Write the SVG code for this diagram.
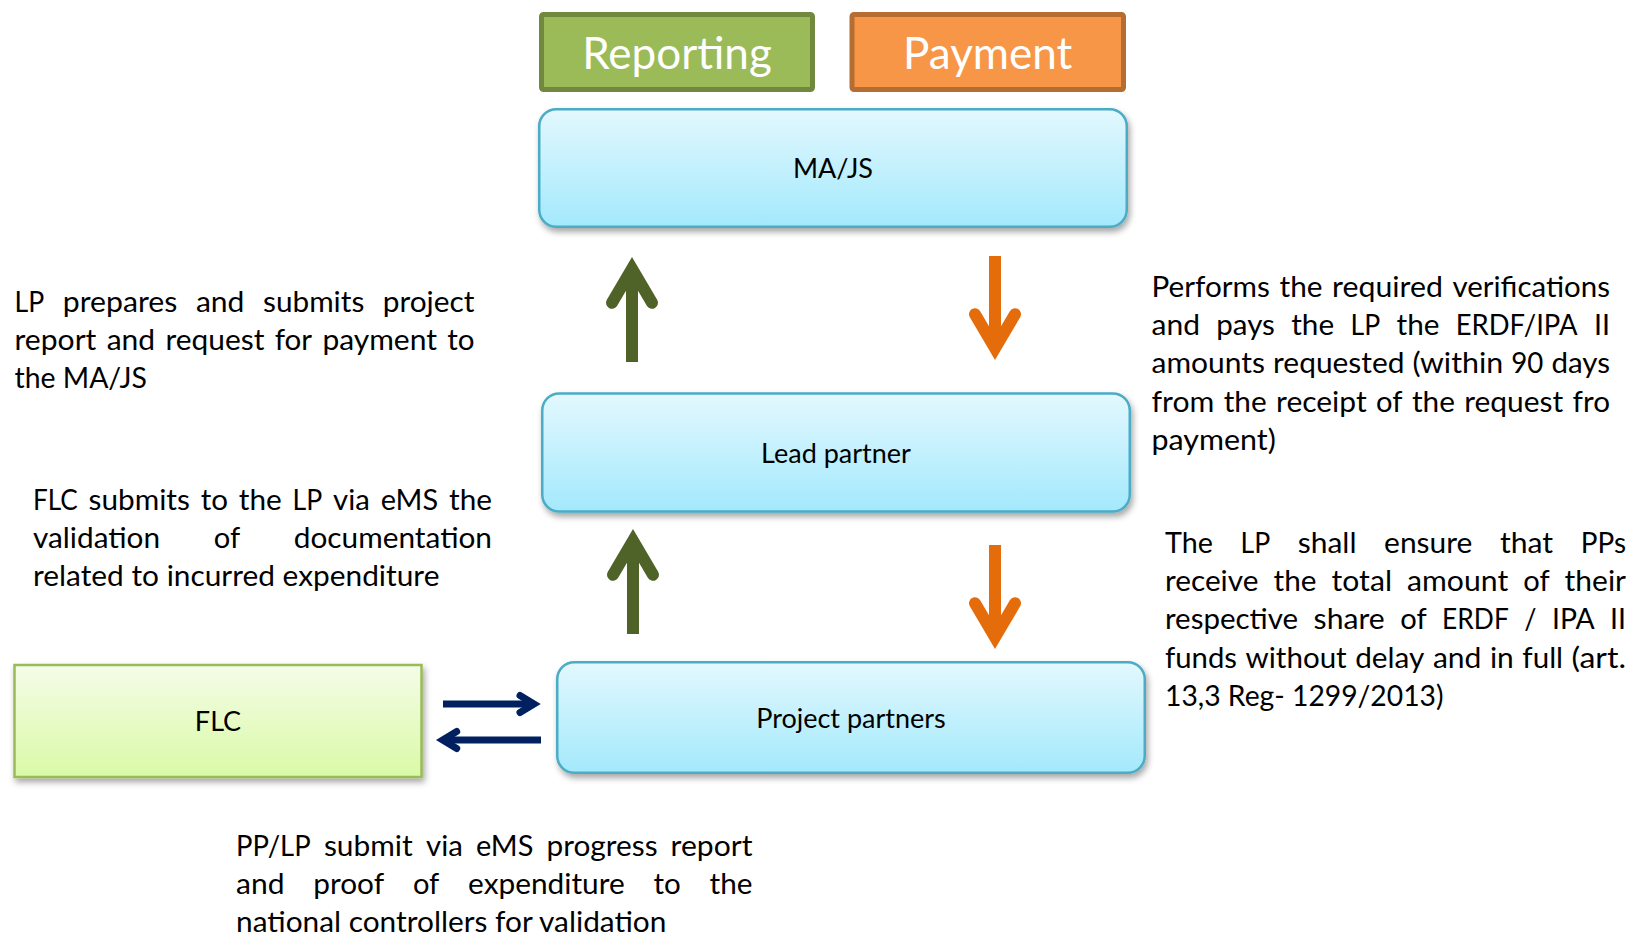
<svg xmlns="http://www.w3.org/2000/svg" width="1632" height="936" viewBox="0 0 1632 936">
<style>
.t{font-family:Lato,"Open Sans","Liberation Sans",sans-serif;fill:#000}
.b{font-size:29.5px}
.lbl{font-size:27px;text-anchor:middle}
.hd{font-family:Lato,"Open Sans","Liberation Sans",sans-serif;font-size:44px;fill:#fff;text-anchor:middle}
.box{fill:url(#blueGrad);stroke:#4bacc6;stroke-width:2.5;filter:url(#sh)}
.flc{fill:url(#greenGrad);stroke:#9bbb59;stroke-width:2.5;filter:url(#sh)}
.ag{stroke:#4f6228;stroke-width:12;fill:none;marker-end:url(#mg)}
.ao{stroke:#e46c0a;stroke-width:12;fill:none;marker-end:url(#mo)}
.ab{stroke:#002060;stroke-width:7;fill:none;marker-end:url(#mb)}
.e{text-anchor:end}
</style>
<defs>
<linearGradient id="blueGrad" x1="0" y1="0" x2="0" y2="1">
<stop offset="0" stop-color="#e3f8fe"/>
<stop offset="1" stop-color="#a3e9fc"/>
</linearGradient>
<linearGradient id="greenGrad" x1="0" y1="0" x2="0" y2="1">
<stop offset="0" stop-color="#f4fce8"/>
<stop offset="1" stop-color="#dafaa6"/>
</linearGradient>
<filter id="sh" x="-10%" y="-20%" width="120%" height="150%">
<feDropShadow dx="2" dy="4" stdDeviation="3" flood-color="#000" flood-opacity="0.35"/>
</filter>
<marker id="mg" markerUnits="userSpaceOnUse" markerWidth="80" markerHeight="80" refX="0" refY="0" orient="auto" overflow="visible">
<path d="M-34,-20 L0,0 L-34,20" fill="none" stroke="#4f6228" stroke-width="12" stroke-linecap="round" stroke-linejoin="miter"/>
</marker>
<marker id="mo" markerUnits="userSpaceOnUse" markerWidth="80" markerHeight="80" refX="0" refY="0" orient="auto" overflow="visible">
<path d="M-34,-20 L0,0 L-34,20" fill="none" stroke="#e46c0a" stroke-width="12" stroke-linecap="round" stroke-linejoin="miter"/>
</marker>
<marker id="mb" markerUnits="userSpaceOnUse" markerWidth="40" markerHeight="40" refX="0" refY="0" orient="auto" overflow="visible">
<path d="M-14,-8.5 L0,0 L-14,8.5" fill="none" stroke="#002060" stroke-width="7" stroke-linecap="round" stroke-linejoin="miter"/>
</marker>
</defs>
<rect width="1632" height="936" fill="#fff"/>

<g id="reporting">
<rect x="541.5" y="14.5" width="271" height="75" rx="2" fill="#9bbb59" stroke="#71893f" stroke-width="5"/>
<text class="hd" x="677" y="69">Reporting</text>
</g>
<g id="payment">
<rect x="852" y="14.5" width="271.5" height="75" rx="2" fill="#f79646" stroke="#b66d31" stroke-width="5"/>
<text class="hd" x="987.7" y="69">Payment</text>
</g>

<g id="ma-js">
<rect class="box" x="539.25" y="109.25" width="587.5" height="117.5" rx="17"/>
<text class="t lbl" x="833" y="178">MA/JS</text>
</g>
<g id="lead-partner">
<rect class="box" x="542.25" y="393.5" width="587.5" height="118" rx="17"/>
<text class="t lbl" x="836" y="463">Lead partner</text>
</g>
<g id="project-partners">
<rect class="box" x="557.25" y="662.25" width="587.5" height="110.5" rx="17"/>
<text class="t lbl" x="851" y="728">Project partners</text>
</g>
<g id="flc">
<rect class="flc" x="14.5" y="665" width="407" height="112"/>
<text class="t lbl" x="218" y="731">FLC</text>
</g>

<g id="connectors">
<line class="ag" x1="632" y1="362" x2="632" y2="268.8"/>
<line class="ag" x1="633" y1="634" x2="633" y2="540.8"/>
<line class="ao" x1="995" y1="256" x2="995" y2="348.2"/>
<line class="ao" x1="995" y1="545" x2="995" y2="637.2"/>
<line class="ab" x1="443" y1="704" x2="534" y2="704"/>
<line class="ab" x1="541" y1="740" x2="442.7" y2="740"/>
</g>

<g id="text-lp-prepares" class="t b">
<text y="312"><tspan x="14.5" textLength="29.7" lengthAdjust="spacingAndGlyphs">LP</tspan><tspan x="62.8" textLength="114.6" lengthAdjust="spacingAndGlyphs">prepares</tspan><tspan x="195.9" textLength="48.5" lengthAdjust="spacingAndGlyphs">and</tspan><tspan x="263" textLength="101.3" lengthAdjust="spacingAndGlyphs">submits</tspan><tspan x="474.5" class="e" textLength="91.8" lengthAdjust="spacingAndGlyphs">project</tspan></text>
<text y="350"><tspan x="14.5" textLength="81.9" lengthAdjust="spacingAndGlyphs">report</tspan><tspan x="106.7" textLength="48.5" lengthAdjust="spacingAndGlyphs">and</tspan><tspan x="165.5" textLength="98.9" lengthAdjust="spacingAndGlyphs">request</tspan><tspan x="274.7" textLength="37.4" lengthAdjust="spacingAndGlyphs">for</tspan><tspan x="322.4" textLength="114.6" lengthAdjust="spacingAndGlyphs">payment</tspan><tspan x="474.5" class="e" textLength="27.3" lengthAdjust="spacingAndGlyphs">to</tspan></text>
<text y="388" x="14.5" textLength="132.5" lengthAdjust="spacingAndGlyphs">the MA/JS</text>
</g>

<g id="text-flc-submits" class="t b">
<text y="510"><tspan x="33" textLength="44.8" lengthAdjust="spacingAndGlyphs">FLC</tspan><tspan x="88.6" textLength="101.3" lengthAdjust="spacingAndGlyphs">submits</tspan><tspan x="200.7" textLength="27.3" lengthAdjust="spacingAndGlyphs">to</tspan><tspan x="238.8" textLength="43" lengthAdjust="spacingAndGlyphs">the</tspan><tspan x="292.6" textLength="29.7" lengthAdjust="spacingAndGlyphs">LP</tspan><tspan x="333.1" textLength="36.8" lengthAdjust="spacingAndGlyphs">via</tspan><tspan x="380.7" textLength="57.4" lengthAdjust="spacingAndGlyphs">eMS</tspan><tspan x="492" class="e" textLength="43" lengthAdjust="spacingAndGlyphs">the</tspan></text>
<text y="548"><tspan x="33" textLength="127.1" lengthAdjust="spacingAndGlyphs">validation</tspan><tspan x="213.8" textLength="26.4" lengthAdjust="spacingAndGlyphs">of</tspan><tspan x="492" class="e" textLength="198.2" lengthAdjust="spacingAndGlyphs">documentation</tspan></text>
<text y="586" x="33" textLength="406.4" lengthAdjust="spacingAndGlyphs">related to incurred expenditure</text>
</g>

<g id="text-performs" class="t b">
<text y="296.6"><tspan x="1151.5" textLength="118.4" lengthAdjust="spacingAndGlyphs">Performs</tspan><tspan x="1279.5" textLength="43" lengthAdjust="spacingAndGlyphs">the</tspan><tspan x="1332.1" textLength="110.9" lengthAdjust="spacingAndGlyphs">required</tspan><tspan x="1610" class="e" textLength="157.5" lengthAdjust="spacingAndGlyphs">verifications</tspan></text>
<text y="334.9"><tspan x="1151.5" textLength="48.5" lengthAdjust="spacingAndGlyphs">and</tspan><tspan x="1216.3" textLength="58.6" lengthAdjust="spacingAndGlyphs">pays</tspan><tspan x="1291.2" textLength="43" lengthAdjust="spacingAndGlyphs">the</tspan><tspan x="1350.5" textLength="29.7" lengthAdjust="spacingAndGlyphs">LP</tspan><tspan x="1396.5" textLength="43" lengthAdjust="spacingAndGlyphs">the</tspan><tspan x="1455.8" textLength="121.7" lengthAdjust="spacingAndGlyphs">ERDF/IPA</tspan><tspan x="1610" class="e" textLength="16" lengthAdjust="spacingAndGlyphs">II</tspan></text>
<text y="373.2"><tspan x="1151.5" textLength="113.5" lengthAdjust="spacingAndGlyphs">amounts</tspan><tspan x="1273.1" textLength="131.4" lengthAdjust="spacingAndGlyphs">requested</tspan><tspan x="1412.5" textLength="90.7" lengthAdjust="spacingAndGlyphs">(within</tspan><tspan x="1511.3" textLength="32.1" lengthAdjust="spacingAndGlyphs">90</tspan><tspan x="1610" class="e" textLength="58.6" lengthAdjust="spacingAndGlyphs">days</tspan></text>
<text y="411.5"><tspan x="1151.5" textLength="62.8" lengthAdjust="spacingAndGlyphs">from</tspan><tspan x="1223.7" textLength="43" lengthAdjust="spacingAndGlyphs">the</tspan><tspan x="1276.1" textLength="90.6" lengthAdjust="spacingAndGlyphs">receipt</tspan><tspan x="1376.1" textLength="26.4" lengthAdjust="spacingAndGlyphs">of</tspan><tspan x="1411.9" textLength="43" lengthAdjust="spacingAndGlyphs">the</tspan><tspan x="1464.3" textLength="98.9" lengthAdjust="spacingAndGlyphs">request</tspan><tspan x="1610" class="e" textLength="37.4" lengthAdjust="spacingAndGlyphs">fro</tspan></text>
<text y="449.8" x="1151.5" textLength="124.3" lengthAdjust="spacingAndGlyphs">payment)</text>
</g>

<g id="text-lp-shall" class="t b">
<text y="552.7"><tspan x="1165" textLength="47.9" lengthAdjust="spacingAndGlyphs">The</tspan><tspan x="1240.5" textLength="29.7" lengthAdjust="spacingAndGlyphs">LP</tspan><tspan x="1297.8" textLength="58.7" lengthAdjust="spacingAndGlyphs">shall</tspan><tspan x="1384.1" textLength="88.3" lengthAdjust="spacingAndGlyphs">ensure</tspan><tspan x="1500" textLength="53.1" lengthAdjust="spacingAndGlyphs">that</tspan><tspan x="1626" class="e" textLength="45.2" lengthAdjust="spacingAndGlyphs">PPs</tspan></text>
<text y="591"><tspan x="1165" textLength="93.4" lengthAdjust="spacingAndGlyphs">receive</tspan><tspan x="1273.5" textLength="43" lengthAdjust="spacingAndGlyphs">the</tspan><tspan x="1331.6" textLength="60.4" lengthAdjust="spacingAndGlyphs">total</tspan><tspan x="1407.1" textLength="101.1" lengthAdjust="spacingAndGlyphs">amount</tspan><tspan x="1523.2" textLength="26.4" lengthAdjust="spacingAndGlyphs">of</tspan><tspan x="1626" class="e" textLength="61.4" lengthAdjust="spacingAndGlyphs">their</tspan></text>
<text y="629.3"><tspan x="1165" textLength="133.1" lengthAdjust="spacingAndGlyphs">respective</tspan><tspan x="1313.6" textLength="71.1" lengthAdjust="spacingAndGlyphs">share</tspan><tspan x="1400.2" textLength="26.4" lengthAdjust="spacingAndGlyphs">of</tspan><tspan x="1442.1" textLength="66.7" lengthAdjust="spacingAndGlyphs">ERDF</tspan><tspan x="1524.3" textLength="12.2" lengthAdjust="spacingAndGlyphs">/</tspan><tspan x="1552" textLength="42.7" lengthAdjust="spacingAndGlyphs">IPA</tspan><tspan x="1626" class="e" textLength="16" lengthAdjust="spacingAndGlyphs">II</tspan></text>
<text y="667.6"><tspan x="1165" textLength="72" lengthAdjust="spacingAndGlyphs">funds</tspan><tspan x="1245.5" textLength="101.2" lengthAdjust="spacingAndGlyphs">without</tspan><tspan x="1355.2" textLength="69.2" lengthAdjust="spacingAndGlyphs">delay</tspan><tspan x="1432.9" textLength="48.5" lengthAdjust="spacingAndGlyphs">and</tspan><tspan x="1489.9" textLength="23.9" lengthAdjust="spacingAndGlyphs">in</tspan><tspan x="1522.3" textLength="40.8" lengthAdjust="spacingAndGlyphs">full</tspan><tspan x="1626" class="e" textLength="54.5" lengthAdjust="spacingAndGlyphs">(art.</tspan></text>
<text y="705.9" x="1165" textLength="278.5" lengthAdjust="spacingAndGlyphs">13,3 Reg- 1299/2013)</text>
</g>

<g id="text-pp-lp-submit" class="t b">
<text y="856"><tspan x="236" textLength="74.7" lengthAdjust="spacingAndGlyphs">PP/LP</tspan><tspan x="323.9" textLength="88.9" lengthAdjust="spacingAndGlyphs">submit</tspan><tspan x="426" textLength="36.8" lengthAdjust="spacingAndGlyphs">via</tspan><tspan x="476" textLength="57.4" lengthAdjust="spacingAndGlyphs">eMS</tspan><tspan x="546.6" textLength="111" lengthAdjust="spacingAndGlyphs">progress</tspan><tspan x="752.5" class="e" textLength="81.9" lengthAdjust="spacingAndGlyphs">report</tspan></text>
<text y="894"><tspan x="236" textLength="48.5" lengthAdjust="spacingAndGlyphs">and</tspan><tspan x="313.3" textLength="70.8" lengthAdjust="spacingAndGlyphs">proof</tspan><tspan x="412.9" textLength="26.4" lengthAdjust="spacingAndGlyphs">of</tspan><tspan x="468.1" textLength="156.6" lengthAdjust="spacingAndGlyphs">expenditure</tspan><tspan x="653.5" textLength="27.3" lengthAdjust="spacingAndGlyphs">to</tspan><tspan x="752.5" class="e" textLength="43" lengthAdjust="spacingAndGlyphs">the</tspan></text>
<text y="932" x="236" textLength="430.4" lengthAdjust="spacingAndGlyphs">national controllers for validation</text>
</g>
</svg>
